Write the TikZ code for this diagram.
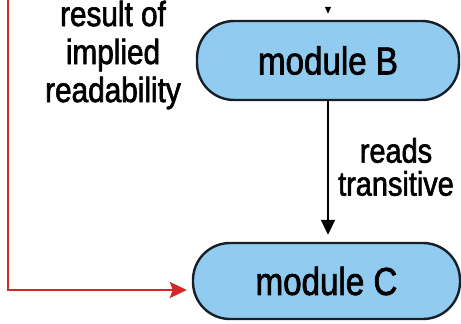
\documentclass[tikz,border=0pt]{standalone}
\usepackage{fontspec}
\setmainfont[FakeStretch=0.85,FakeBold=1.8]{Liberation Sans}
\usetikzlibrary{arrows.meta}
\definecolor{modfill}{RGB}{146,203,240}
\definecolor{moddraw}{RGB}{22,30,40}
\definecolor{impred}{RGB}{215,38,38}
\tikzset{
  module/.style={draw=moddraw, fill=modfill, line width=2.4pt, rounded corners=37pt,
    inner sep=0pt, font=\fontsize{39}{41}\selectfont},
  lbl/.style={align=center, inner sep=0pt},
  reads/.style={draw=black, line width=2pt, -{Triangle[length=15pt,width=14pt]}},
  implied/.style={draw=impred, line width=2pt, -{Stealth[length=17pt,width=16pt,inset=3pt]}}
}
\begin{document}
\begin{tikzpicture}[x=1pt,y=-1pt]
\useasboundingbox (0,0) rectangle (461,324);
\node[module, minimum width=262pt, minimum height=79pt] (B) at (328,60.5) {module B};
\node[module, minimum width=267pt, minimum height=76pt] (C) at (326.5,281) {module C};
\node[lbl, font=\fontsize{35}{38}\selectfont] (implab) at (113,55) {result of\\implied\\readability};
\node[lbl, font=\fontsize{34}{33}\selectfont] (readlab) at (396,167) {reads\\transitive};
\coordinate (topin) at (328,7);
\coordinate (redstart) at (8,0);
\draw[draw=black, line width=1pt, -{Triangle[length=7pt,width=6pt]}, shorten >=6pt] (topin) -- (B.north);
\draw[reads, shorten >=7pt] (B.south) -- (B.south |- C.north);
\draw[implied] (redstart) |- ([xshift=-5pt,yshift=-9pt]C.west);
\end{tikzpicture}
\end{document}
